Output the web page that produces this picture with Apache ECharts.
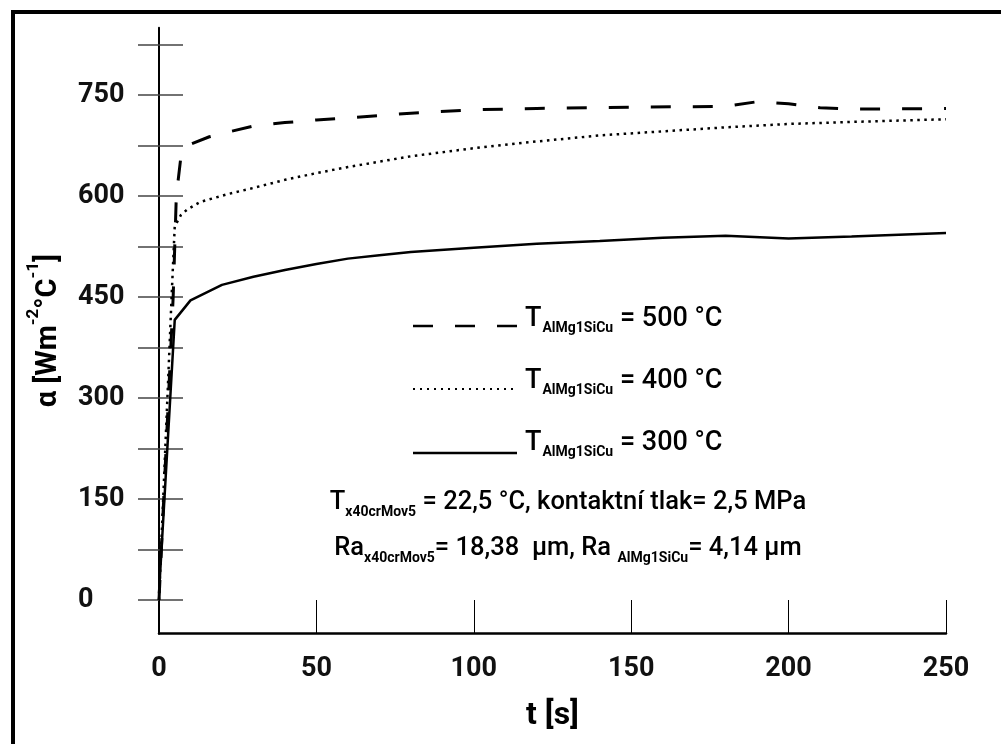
<!DOCTYPE html>
<html lang="cs">
<head>
    <meta charset="UTF-8">
    <title>alpha vs t</title>
    <script src="https://cdn.jsdelivr.net/npm/echarts@6/dist/echarts.min.js"></script>
    <style>
        html, body { margin: 0; padding: 0; background: #fff; }
        #main { width: 1001px; height: 744px; }
    </style>
</head>
<body>
<div id="main"></div>
<script>
    // casy [s] a hodnoty alfa [W m-2 C-1]
    var t500 = [0, 4.5, 5.5, 7, 8, 10, 16, 22, 30, 40, 50, 60, 80, 100, 120, 150, 180, 190, 200, 210, 220, 250];
    var a500 = [0, 450, 600, 660, 670, 677, 688, 695, 704, 709, 713, 716, 723, 728, 730, 732, 733, 740, 737, 731, 729, 730];

    var t400 = [0, 4, 5, 7, 9, 13, 22, 30, 40, 50, 60, 70, 80, 90, 100, 120, 140, 160, 180, 200, 220, 250];
    var a400 = [0, 450, 555, 572, 580, 591, 603, 612, 624, 634, 643, 651, 659, 665, 671, 681, 690, 696, 702, 707, 710, 714];

    var t300 = [0, 5, 10, 20, 30, 40, 50, 60, 70, 80, 100, 120, 140, 160, 180, 200, 220, 250];
    var a300 = [10, 416, 445, 468, 480, 490, 499, 507, 512, 517, 523, 529, 533, 538, 541, 537, 540, 545];

    var yTicks = [0, 75, 150, 225, 300, 375, 450, 525, 600, 675, 750, 825];
    var yLabels = [0, 150, 300, 450, 600, 750];

    var legendTexts = ['= 500 °C', '= 400 °C', '= 300 °C'];

    function pairs(t, a) {
        return t.map(function (v, i) { return [v, a[i]]; });
    }

    var font = 'Roboto, "Noto Sans", sans-serif';
    var chart = echarts.init(document.getElementById('main'), null, {renderer: 'canvas'});

    // popisky legendy s dolnim indexem
    function legendText(txt, y) {
        return {
            type: 'text',
            x: 525, y: y,
            style: {
                text: '{m|T}{s|AlMg1SiCu}{m| ' + txt + '}',
                verticalAlign: 'middle',
                rich: {
                    m: {fontSize: 27, fontFamily: font, fontWeight: 500, lineHeight: 32, verticalAlign: 'middle'},
                    s: {fontSize: 14, fontFamily: font, fontWeight: 'bold', lineHeight: 32, verticalAlign: 'bottom', padding: [0, 0, 0, 1]}
                }
            }
        };
    }

    var richNote = {
        m: {fontSize: 25.5, fontFamily: font, fontWeight: 500, lineHeight: 32, verticalAlign: 'middle'},
        s: {fontSize: 14, fontFamily: font, fontWeight: 'bold', lineHeight: 32, verticalAlign: 'bottom'}
    };

    var option = {
        animation: false,
        grid: {left: 159, right: 55, top: 27.67, bottom: 110.33},
        xAxis: [{
            type: 'value', min: 0, max: 250, interval: 50,
            name: 't [s]', nameLocation: 'middle', nameGap: 66, nameMoveOverlap: false,
            nameTextStyle: {fontSize: 32, fontFamily: font, fontWeight: 'bold', color: '#000'},
            axisLine: {show: true, onZero: false, lineStyle: {color: '#000', width: 2.5}},
            axisTick: {show: true, inside: true, length: 30, lineStyle: {color: '#000', width: 1}},
            axisLabel: {fontSize: 27, fontFamily: font, fontWeight: 'bold', color: '#111', margin: 22},
            splitLine: {show: false}
        }, {
            type: 'value', min: 0, max: 250, interval: 50, position: 'bottom',
            axisLine: {show: false},
            axisTick: {show: true, inside: false, length: 19, lineStyle: {color: '#000', width: 1}},
            axisLabel: {show: false},
            splitLine: {show: false}
        }],
        yAxis: [{
            type: 'value', min: -50, max: 850,
            name: '{a|α [Wm}{sup|-2}{a|°C}{sup|-1}{a|]}',
            nameLocation: 'middle', nameGap: 96, nameMoveOverlap: false,
            nameTextStyle: {
                color: '#000',
                rich: {
                    a: {fontSize: 29, fontFamily: font, fontWeight: 'bold', color: '#000', lineHeight: 38, verticalAlign: 'bottom'},
                    sup: {fontSize: 17, fontFamily: font, fontWeight: 'bold', color: '#000', lineHeight: 38, verticalAlign: 'top'}
                }
            },
            axisLine: {show: true, onZero: false, lineStyle: {color: '#000', width: 2}},
            axisTick: {show: true, inside: false, length: 21, customValues: yTicks, lineStyle: {color: '#444', width: 1.5}},
            axisLabel: {customValues: yLabels, align: 'left', fontSize: 27, fontFamily: font, fontWeight: 'bold', color: '#111', margin: 81},
            splitLine: {show: false}
        }, {
            type: 'value', min: -50, max: 850, position: 'left',
            axisLine: {show: false},
            axisTick: {show: true, inside: true, length: 24, customValues: yTicks, lineStyle: {color: '#444', width: 1.5}},
            axisLabel: {show: false},
            splitLine: {show: false}
        }],
        series: [{
            name: '500', type: 'line', data: pairs(t500, a500),
            showSymbol: false, symbol: 'none',
            lineStyle: {color: '#000', width: 3, type: [20, 22]}
        }, {
            name: '400', type: 'line', data: pairs(t400, a400),
            showSymbol: false, symbol: 'none',
            lineStyle: {color: '#000', width: 2.5, type: [2.5, 4.5]}
        }, {
            name: '300', type: 'line', data: pairs(t300, a300),
            showSymbol: false, symbol: 'none',
            lineStyle: {color: '#000', width: 2.5}
        }],
        graphic: [
            // ramecek
            {type: 'rect', shape: {x: 13, y: 12, width: 1200, height: 1000}, style: {fill: 'none', stroke: '#000', lineWidth: 4}, silent: true},
            // legenda
            {type: 'line', shape: {x1: 413, y1: 326, x2: 517, y2: 326}, style: {stroke: '#000', lineWidth: 2.5, lineDash: [20, 22]}},
            {type: 'line', shape: {x1: 413, y1: 389, x2: 518, y2: 389}, style: {stroke: '#000', lineWidth: 2, lineDash: [2, 5]}},
            {type: 'line', shape: {x1: 413, y1: 453, x2: 517, y2: 453}, style: {stroke: '#000', lineWidth: 2.5}},
            legendText(legendTexts[0], 319),
            legendText(legendTexts[1], 381),
            legendText(legendTexts[2], 443),
            // podminky mereni
            {
                type: 'text', x: 568, y: 503,
                style: {
                    text: '{m|T}{s|x40crMov5}{m| = 22,5 °C, kontaktní tlak= 2,5 MPa}',
                    align: 'center', verticalAlign: 'middle', rich: richNote
                }
            },
            {
                type: 'text', x: 568, y: 549,
                style: {
                    text: '{m|Ra}{s|x40crMov5}{m|= 18,38  µm, Ra }{s|AlMg1SiCu}{m|= 4,14 µm}',
                    align: 'center', verticalAlign: 'middle', rich: richNote
                }
            }
        ]
    };
    chart.setOption(option);
</script>
</body>
</html>
